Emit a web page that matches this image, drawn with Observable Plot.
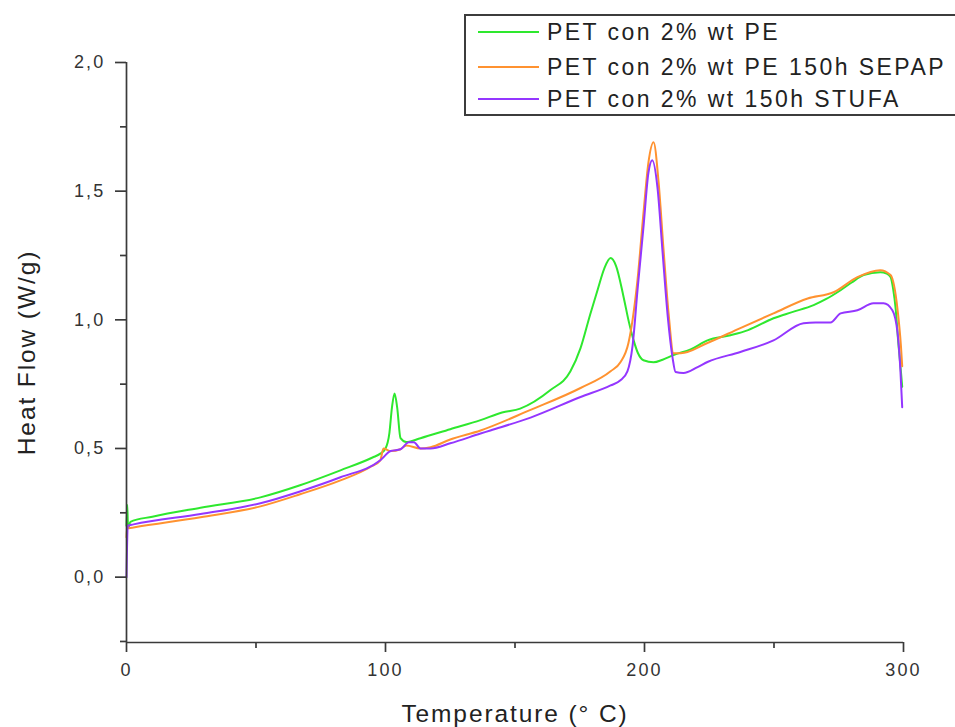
<!DOCTYPE html>
<html>
<head>
<meta charset="utf-8">
<script src="https://cdn.jsdelivr.net/npm/d3@7"></script>
<script src="https://cdn.jsdelivr.net/npm/@observablehq/plot@0.6"></script>
<style>
  body { margin: 0; background: #fff; }
  #wrap { position: relative; width: 955px; height: 727px; overflow: hidden; font-family: "Liberation Sans", Arial, sans-serif; }
  #legend { position: absolute; left: 464px; top: 14px; width: 560px; height: 102px; border: 2px solid #3c3c3c; box-sizing: border-box; background: #fff; }
  .row { position: absolute; left: 0; height: 30px; line-height: 30px; white-space: nowrap; }
  .row svg { position: absolute; left: 12px; top: 0; }
  .row span { position: absolute; left: 81px; top: 0; font-size: 23px; letter-spacing: 2.45px; color: #222; }
</style>
</head>
<body>
<div id="wrap"></div>
<script>
// ---------- data ----------
const seriesNames = ["PET con 2% wt PE", "PET con 2% wt PE 150h SEPAP", "PET con 2% wt 150h STUFA"];
const seriesColors = ["#2ee82e", "#ff9230", "#9436ff"];

const tGreen = [0, 0.3, 0.6, 1.5, 10, 28.6, 51.7, 67, 82.6, 95, 98, 100, 101.5, 102.5, 103.5, 104.5, 105.8, 108, 113.5, 125, 136.7, 145, 152, 163.7, 171.4, 175.3, 179, 182, 184.5, 186.9, 189, 191.9, 194, 195.8, 197.5, 199.6, 203.5, 207, 211.2, 217.8, 224.3, 233.2, 240, 249.8, 257, 265.3, 270, 275.7, 280, 284.6, 291, 293.5, 295, 296, 297, 298, 299, 299.5];
const vGreen = [0.20, 0.28, 0.19, 0.215, 0.235, 0.27, 0.31, 0.357, 0.415, 0.465, 0.48, 0.50, 0.56, 0.66, 0.714, 0.66, 0.54, 0.525, 0.54, 0.575, 0.61, 0.64, 0.655, 0.727, 0.80, 0.89, 1.02, 1.12, 1.20, 1.24, 1.21, 1.09, 0.99, 0.92, 0.87, 0.843, 0.835, 0.845, 0.863, 0.885, 0.92, 0.94, 0.96, 1.006, 1.03, 1.057, 1.08, 1.115, 1.145, 1.174, 1.185, 1.18, 1.166, 1.12, 1.04, 0.91, 0.80, 0.74];

const tOrange = [0, 0.3, 1, 2.7, 28.6, 51.7, 67, 82.6, 94, 98, 99.2, 102, 105.8, 108, 113.5, 117.4, 125, 136.7, 156, 175.3, 186.9, 190.7, 193.8, 195.4, 197.3, 199.6, 201.5, 203.5, 205.4, 207.3, 209.3, 211.2, 214, 224.3, 237, 249.8, 263, 273, 282.2, 291, 295, 297.7, 299, 299.5];
const vOrange = [0.155, 0.20, 0.19, 0.193, 0.233, 0.275, 0.322, 0.376, 0.427, 0.454, 0.50, 0.49, 0.497, 0.512, 0.50, 0.505, 0.535, 0.57, 0.65, 0.735, 0.80, 0.835, 0.91, 1.0, 1.155, 1.415, 1.61, 1.69, 1.54, 1.28, 1.025, 0.87, 0.87, 0.91, 0.968, 1.025, 1.083, 1.107, 1.166, 1.193, 1.174, 1.04, 0.90, 0.82];

const tPurple = [0, 0.5, 2.7, 28.6, 51.7, 67, 82.6, 98, 102, 105.8, 109, 111, 113.5, 117.4, 125, 136.7, 140.5, 156, 175.3, 186.9, 190.7, 193.4, 195.4, 197.3, 199.6, 201.5, 203, 205, 207, 209, 210.8, 212, 215, 220.5, 224.3, 237, 249.8, 261.4, 266, 271.8, 275.7, 282.2, 288.4, 292.3, 295.7, 297.7, 298.8, 299.5];
const vPurple = [0.0, 0.20, 0.205, 0.245, 0.287, 0.333, 0.388, 0.454, 0.49, 0.497, 0.524, 0.524, 0.50, 0.50, 0.52, 0.558, 0.57, 0.62, 0.70, 0.745, 0.765, 0.80, 0.90, 1.115, 1.36, 1.57, 1.62, 1.515, 1.26, 1.01, 0.855, 0.797, 0.793, 0.816, 0.836, 0.875, 0.92, 0.987, 0.99, 0.99, 1.025, 1.037, 1.064, 1.064, 1.037, 0.95, 0.805, 0.66];

const xDomain = [0, 300];
const yDomain = [-0.254, 2.0];
const xTicks = [0, 100, 200, 300];
const xTickLabels = ["0", "100", "200", "300"];
const xMinorTicks = [50, 150, 250];
const yTicks = [0, 0.5, 1.0, 1.5, 2.0];
const yTickLabels = ["0,0", "0,5", "1,0", "1,5", "2,0"];
const yMinorTicks = [-0.25, 0.25, 0.75, 1.25, 1.75];
const xLabel = "Temperature (° C)";
const yLabel = "Heat Flow (W/g)";

// ---------- build ----------
const toRows = (ts, vs, s) => ts.map((t, i) => ({T: t, v: vs[i], s}));
const rows = [
  ...toRows(tGreen, vGreen, seriesNames[0]),
  ...toRows(tOrange, vOrange, seriesNames[1]),
  ...toRows(tPurple, vPurple, seriesNames[2])
];

const axisColor = "#3a3a3a";
const chart = Plot.plot({
  width: 955,
  height: 727,
  marginLeft: 126,
  marginRight: 52,
  marginTop: 62,
  marginBottom: 85,
  style: {fontFamily: "'Liberation Sans', Arial, sans-serif", color: "#333", background: "white", overflow: "visible"},
  x: {domain: xDomain},
  y: {domain: yDomain},
  color: {domain: seriesNames, range: seriesColors},
  marks: [
    Plot.line(rows, {x: "T", y: "v", z: "s", stroke: "s", strokeWidth: 2, curve: "monotone-x"}),
    Plot.ruleX([xDomain[0]], {stroke: axisColor, strokeWidth: 1.7}),
    Plot.ruleY([yDomain[0]], {stroke: axisColor, strokeWidth: 1.7}),
    Plot.axisX({ticks: xTicks, tickSize: 10, tickPadding: 11, fontSize: 18, stroke: axisColor, strokeWidth: 1.7, fill: "#333", label: null,
      tickFormat: d => xTickLabels[xTicks.indexOf(d)]}),
    Plot.axisX({ticks: xMinorTicks, tickSize: 6, stroke: axisColor, strokeWidth: 1.7, text: null, label: null}),
    Plot.axisY({ticks: yTicks, tickSize: 11, tickPadding: 10, fontSize: 18, stroke: axisColor, strokeWidth: 1.7, fill: "#333", label: null,
      tickFormat: d => yTickLabels[yTicks.indexOf(d)]}),
    Plot.axisY({ticks: yMinorTicks, tickSize: 6, stroke: axisColor, strokeWidth: 1.7, text: null, label: null}),
    Plot.text([xLabel], {text: d => d, frameAnchor: "bottom", dy: 72, lineAnchor: "middle", textAnchor: "middle", fontSize: 24.5, fill: "#222"}),
    Plot.text([yLabel], {text: d => d, frameAnchor: "left", dx: -99, rotate: -90, lineAnchor: "middle", textAnchor: "middle", fontSize: 24.5, fill: "#222"})
  ]
});

d3.select(chart).selectAll('g[aria-label$="tick label"] text').style("letter-spacing", "2.2px");
d3.select(chart).selectAll('g[aria-label="text"] text').style("letter-spacing", "1.9px");

const wrap = document.getElementById("wrap");
wrap.appendChild(chart);

// legend (HTML overlay)
const legend = d3.select(wrap).append("div").attr("id", "legend");
const rowCenters = [16, 51, 83];
seriesNames.forEach((name, i) => {
  const r = legend.append("div").attr("class", "row").style("top", (rowCenters[i] - 15) + "px");
  const sv = r.append("svg").attr("width", 62).attr("height", 30);
  sv.append("line").attr("x1", 0).attr("x2", 61).attr("y1", 15).attr("y2", 15)
    .attr("stroke", seriesColors[i]).attr("stroke-width", 2);
  r.append("span").text(name);
});
</script>
</body>
</html>
